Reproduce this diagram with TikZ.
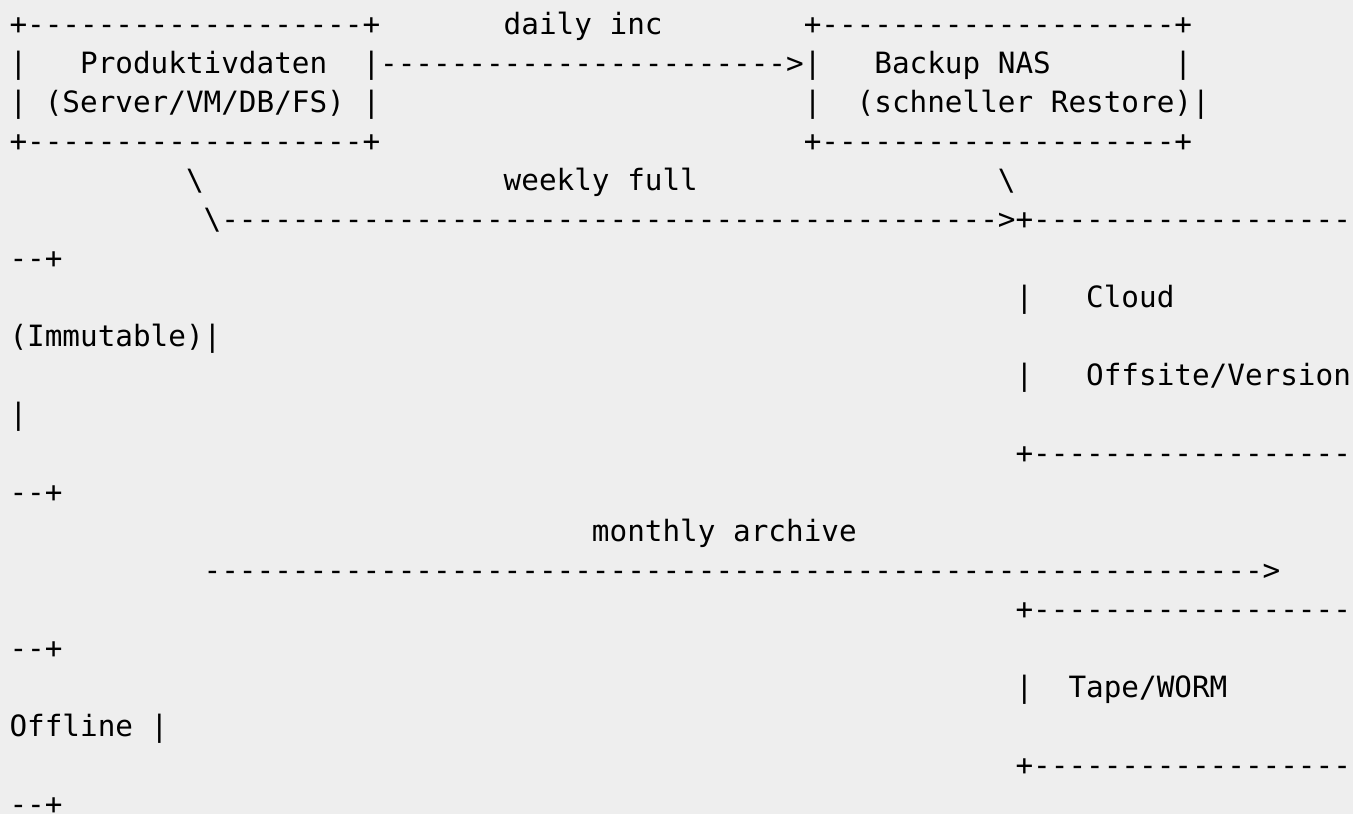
\documentclass[tikz,border=0pt]{standalone}
\usepackage{fontspec}
\setmonofont{DejaVu Sans Mono}
\usepackage{tikz}
\usetikzlibrary{positioning}

\definecolor{pagebg}{HTML}{EEEEEE}
\definecolor{asciiink}{HTML}{000000}
\newcommand\asciifont{\ttfamily\fontsize{29.32pt}{39pt}\selectfont}
\newcommand\dashrun[1]{\foreach \k in {1,...,#1}{-}}

\begin{document}
\begin{tikzpicture}[x=17.65pt, y=-39pt]
        % Styles
        \tikzstyle{ascii} = [anchor=base west, inner sep=0pt, outer sep=0pt, font=\asciifont, text=asciiink]

        % Background, fixes the margins
        \fill[pagebg] (-9.5pt,34pt) rectangle (1343.5pt,-780pt);
        \useasboundingbox (-9.5pt,34pt) rectangle (1343.5pt,-780pt);

        % Produktivdaten box and Backup NAS box
        \node[ascii] (src_top) at (0,0) {+\dashrun{19}+};
        \node[ascii] (daily_lbl) at (28,0) {daily inc};
        \node[ascii] (nas_top) at (45,0) {+\dashrun{20}+};

        \node[ascii] (src_l1) at (0,1) {|};
        \node[ascii] (src_name) at (4,1) {Produktivdaten};
        \node[ascii] (daily_arrow) at (20,1) {|\dashrun{23}>|};
        \node[ascii] (nas_name) at (49,1) {Backup NAS};
        \node[ascii] (nas_r1) at (66,1) {|};

        \node[ascii] (src_l2) at (0,2) {|};
        \node[ascii] (src_sub) at (2,2) {(Server/VM/DB/FS)};
        \node[ascii] (src_r2) at (20,2) {|};
        \node[ascii] (nas_l2) at (45,2) {|};
        \node[ascii] (nas_sub) at (48,2) {(schneller Restore)|};

        \node[ascii] (src_bot) at (0,3) {+\dashrun{19}+};
        \node[ascii] (nas_bot) at (45,3) {+\dashrun{20}+};

        % Weekly full arrow into Cloud box
        \node[ascii] (weekly_l) at (10,4) {\textbackslash};
        \node[ascii] (weekly_lbl) at (28,4) {weekly full};
        \node[ascii] (weekly_r) at (56,4) {\textbackslash};
        \node[ascii] (weekly_arrow) at (11,5) {\textbackslash\dashrun{44}>+\dashrun{18}};
        \node[ascii] (cloud_top_end) at (0,6) {\dashrun{2}+};

        % Cloud box (wrapped lines)
        \node[ascii] (cloud_l1) at (57,7) {|};
        \node[ascii] (cloud_name) at (61,7) {Cloud};
        \node[ascii] (cloud_tag) at (0,8) {(Immutable)|};
        \node[ascii] (cloud_l2) at (57,9) {|};
        \node[ascii] (cloud_sub) at (61,9) {Offsite/Version};
        \node[ascii] (cloud_r2) at (0,10) {|};
        \node[ascii] (cloud_bot) at (57,11) {+\dashrun{18}};
        \node[ascii] (cloud_bot_end) at (0,12) {\dashrun{2}+};

        % Monthly archive arrow
        \node[ascii] (monthly_lbl) at (33,13) {monthly archive};
        \node[ascii] (monthly_arrow) at (11,14) {\dashrun{60}>};

        % Tape box (wrapped lines)
        \node[ascii] (tape_top) at (57,15) {+\dashrun{18}};
        \node[ascii] (tape_top_end) at (0,16) {\dashrun{2}+};
        \node[ascii] (tape_l1) at (57,17) {|};
        \node[ascii] (tape_name) at (60,17) {Tape/WORM};
        \node[ascii] (tape_tag) at (0,18) {Offline |};
        \node[ascii] (tape_bot) at (57,19) {+\dashrun{18}};
        \node[ascii] (tape_bot_end) at (0,20) {\dashrun{2}+};
    \end{tikzpicture}
\end{document}
